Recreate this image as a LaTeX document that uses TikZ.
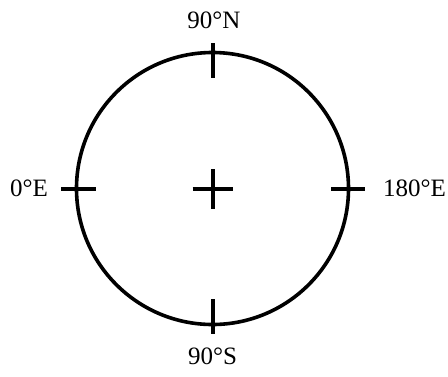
\documentclass[tikz,border=0pt]{standalone}
\usepackage{fontspec}
\setmainfont{Liberation Serif}
\begin{document}
\begin{tikzpicture}[x=1pt,y=-1pt,
  ring/.style={line width=3.6pt},
  tick/.style={line width=4pt},
  lbl/.style={font=\fontsize{25}{28}\selectfont, inner sep=0pt}]
\useasboundingbox (0,0) rectangle (448,376);
\coordinate (c) at (212.5,188.5);
\draw[ring] (c) circle[radius=136];
\coordinate (n) at (212.5,60.5);
\coordinate (s) at (212.5,316.5);
\coordinate (w) at (76,188.5);
\coordinate (e) at (348.5,188.5);
\draw[tick] (212.5,43) -- (212.5,78);
\draw[tick] (212.5,299) -- (212.5,334);
\draw[tick] (61,188.5) -- (96,188.5);
\draw[tick] (331,188.5) -- (365,188.5);
\draw[tick] ([xshift=-20]c) -- ([xshift=20]c);
\draw[tick] ([yshift=-20]c) -- ([yshift=20]c);
\node[lbl] (ln) at (214,20) {90°N};
\node[lbl] (ls) at (212.5,356) {90°S};
\node[lbl] (lw) at (29,188.5) {0°E};
\node[lbl] (le) at (414.5,188.5) {180°E};
\end{tikzpicture}
\end{document}
